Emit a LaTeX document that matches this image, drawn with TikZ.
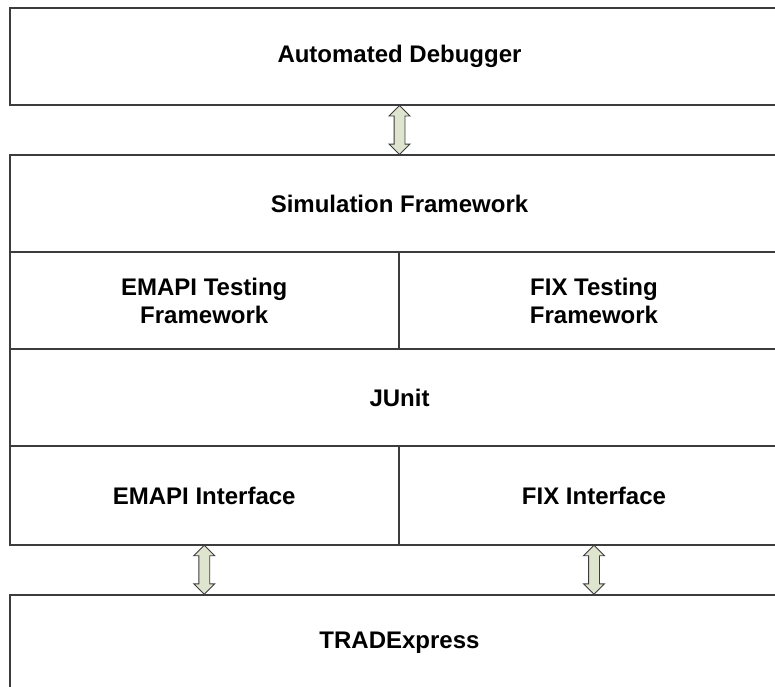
\documentclass[tikz,border=0pt]{standalone}
\usepackage{fontspec}
\setmainfont{Liberation Sans}
\usetikzlibrary{shapes.arrows,calc}
\definecolor{linegray}{RGB}{60,60,60}
\definecolor{arrowfill}{RGB}{222,228,206}

\begin{document}
\begin{tikzpicture}[x=1pt,y=-1pt,
  layer/.style={draw=linegray,line width=2pt,fill=white,minimum height=97pt,
    inner sep=0pt,align=center,font=\fontsize{24}{28}\selectfont\bfseries},
  full/.style={layer,minimum width=780pt},
  half/.style={layer,minimum width=389.5pt},
  link/.style={double arrow,draw=linegray,line width=0.9pt,fill=arrowfill,
    rotate=90,inner xsep=0pt,inner ysep=5pt,double arrow head extend=5pt}]
\useasboundingbox (0,0) rectangle (775,686);
\clip (0,0) rectangle (775,686);
% Layers
\node[full] (debugger) at (399.5,56.5) {Automated Debugger};
\node[full] (sim) at (399.5,203.5) {Simulation Framework};
\node[half] (emapitest) at (204.25,300.5) {EMAPI Testing\\Framework};
\node[half] (fixtest) at (594,300.5) {FIX Testing\\Framework};
\node[full] (junit) at (399.5,397.5) {JUnit};
\node[half,minimum height=99pt] (emapiif) at (204.25,495.5) {EMAPI Interface};
\node[half,minimum height=99pt] (fixif) at (594,495.5) {FIX Interface};
\node[full] (tradex) at (399.5,643) {TRADExpress};
% Links
\node[link,minimum height=49pt] (dbglink) at ($(debugger.south)!0.5!(sim.north)$) {};
\node[link,minimum height=49pt] (emapilink) at ($(emapiif.south)!0.5!(emapiif.south |- tradex.north)$) {};
\node[link,minimum height=49pt] (fixlink) at ($(fixif.south)!0.5!(fixif.south |- tradex.north)$) {};
\end{tikzpicture}
\end{document}
